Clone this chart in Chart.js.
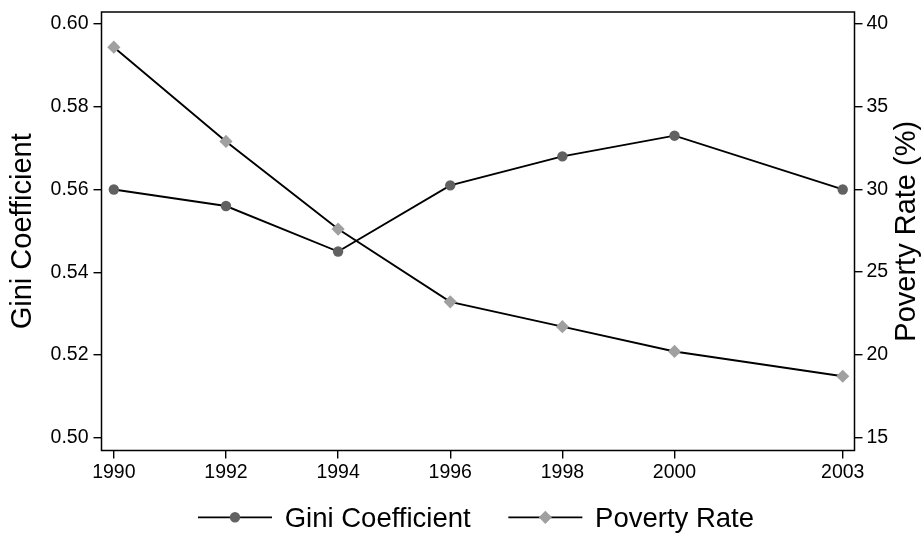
<!DOCTYPE html>
<html><head><meta charset="utf-8">
<script src="https://cdn.jsdelivr.net/npm/chart.js@4"></script>
<style>html,body{margin:0;padding:0;background:#fff}canvas{display:block}</style>
</head><body>
<canvas id="c" width="923" height="534"></canvas>
<script>
const years = [1990, 1992, 1994, 1996, 1998, 2000, 2003];
const gini = [0.560, 0.556, 0.545, 0.561, 0.568, 0.573, 0.560];
const poverty = [38.6, 32.9, 27.6, 23.2, 21.7, 20.2, 18.7];
const giniTicks = [0.50, 0.52, 0.54, 0.56, 0.58, 0.60];
const povertyTicks = [15, 20, 25, 30, 35, 40];
const yearTicks = [1990, 1992, 1994, 1996, 1998, 2000, 2003];
const giniLabel = 'Gini Coefficient';
const povertyLabel = 'Poverty Rate';
const leftTitle = 'Gini Coefficient';
const rightTitle = 'Poverty Rate (%)';

const FONT = "'Liberation Sans', Arial, Helvetica, sans-serif";
const TICK_FONT = {family: FONT, size: 19.5};

const giniColor = '#616161';
const povColor = '#a0a0a0';

const boxPlugin = {
  id: 'extras',
  afterDraw(chart) {
    const ctx = chart.ctx, a = chart.chartArea;
    ctx.save();
    ctx.strokeStyle = '#000';
    ctx.lineWidth = 1.5;
    ctx.strokeRect(a.left, a.top, a.right - a.left, a.bottom - a.top);
    // right axis title (reads bottom to top)
    ctx.fillStyle = '#000';
    ctx.font = '29px ' + FONT;
    ctx.translate(907, (a.top + a.bottom) / 2);
    ctx.rotate(-Math.PI / 2);
    ctx.textAlign = 'center';
    ctx.textBaseline = 'middle';
    ctx.fillText(rightTitle, 0, 0);
    ctx.restore();

    // legend
    ctx.save();
    ctx.font = '27.5px ' + FONT;
    const lineLen = 74, gapText = 12.7, gapItems = 37.7;
    const ds = chart.data.datasets;
    const w0 = ctx.measureText(ds[0].label).width;
    const w1 = ctx.measureText(ds[1].label).width;
    const total = lineLen + gapText + w0 + gapItems + lineLen + gapText + w1;
    let x = (a.left + a.right) / 2 - total / 2 - 2;
    const y = 517.3;
    const items = [[ds[0], w0], [ds[1], w1]];
    items.forEach(([d, w]) => {
      ctx.strokeStyle = '#000';
      ctx.lineWidth = 1.8;
      ctx.beginPath(); ctx.moveTo(x, y); ctx.lineTo(x + lineLen, y); ctx.stroke();
      ctx.fillStyle = d.pointBackgroundColor;
      ctx.beginPath();
      const cx = x + lineLen / 2;
      if (d.pointStyle === 'rectRot') {
        const r = d.pointRadius;
        ctx.moveTo(cx, y - r); ctx.lineTo(cx + r, y); ctx.lineTo(cx, y + r); ctx.lineTo(cx - r, y); ctx.closePath();
      } else {
        ctx.arc(cx, y, d.pointRadius, 0, Math.PI * 2);
      }
      ctx.fill();
      ctx.fillStyle = '#000';
      ctx.textAlign = 'left';
      ctx.textBaseline = 'alphabetic';
      ctx.fillText(d.label, x + lineLen + gapText, 527.3);
      x += lineLen + gapText + w + gapItems;
    });
    ctx.restore();
  }
};

const tickGrid = {drawOnChartArea: false, drawTicks: true, tickLength: 8, color: '#000', lineWidth: 1.4};
const noPad = s => { s.paddingTop = 0; s.paddingBottom = 0; s.paddingLeft = 0; s.paddingRight = 0; };

new Chart(document.getElementById('c'), {
  type: 'line',
  data: {
    datasets: [
      {
        label: giniLabel,
        data: years.map((yr, i) => ({x: yr, y: gini[i]})),
        yAxisID: 'y',
        borderColor: '#000',
        borderWidth: 1.9,
        pointStyle: 'circle',
        pointRadius: 5.2,
        pointBackgroundColor: giniColor,
        pointBorderColor: giniColor,
        pointBorderWidth: 0,
        tension: 0,
        fill: false
      },
      {
        label: povertyLabel,
        data: years.map((yr, i) => ({x: yr, y: poverty[i]})),
        yAxisID: 'y1',
        borderColor: '#000',
        borderWidth: 1.9,
        pointStyle: 'rectRot',
        pointRadius: 6.6,
        pointBackgroundColor: povColor,
        pointBorderColor: povColor,
        pointBorderWidth: 0,
        tension: 0,
        fill: false
      }
    ]
  },
  options: {
    responsive: false,
    animation: false,
    events: [],
    layout: {padding: {top: 12, left: 0, right: 0, bottom: 0}},
    plugins: {legend: {display: false}, tooltip: {enabled: false}, title: {display: false}},
    scales: {
      x: {
        type: 'linear',
        position: 'bottom',
        min: 1989.78,
        max: 2003.21,
        afterBuildTicks: s => { s.ticks = yearTicks.map(v => ({value: v})); },
        afterFit: s => { s.height = 83.5; noPad(s); },
        grid: tickGrid,
        border: {display: false},
        ticks: {font: TICK_FONT, color: '#000', padding: 2, maxRotation: 0, autoSkip: false, callback: v => String(v)}
      },
      y: {
        type: 'linear',
        position: 'left',
        min: 0.4969,
        max: 0.6029,
        afterBuildTicks: s => { s.ticks = giniTicks.map(v => ({value: v})); },
        afterFit: s => { s.width = 101.5; noPad(s); },
        grid: tickGrid,
        border: {display: false},
        ticks: {font: TICK_FONT, color: '#000', padding: 5, autoSkip: false, callback: v => Number(v).toFixed(2)},
        title: {display: true, text: leftTitle, color: '#000', font: {family: FONT, size: 29}, padding: {top: 5.6, bottom: 0}}
      },
      y1: {
        type: 'linear',
        position: 'right',
        min: 14.21,
        max: 40.73,
        afterBuildTicks: s => { s.ticks = povertyTicks.map(v => ({value: v})); },
        afterFit: s => { s.width = 68.5; noPad(s); },
        grid: tickGrid,
        border: {display: false},
        ticks: {font: TICK_FONT, color: '#000', padding: 4, autoSkip: false, callback: v => String(v)}
      }
    }
  },
  plugins: [boxPlugin]
});
</script>
</body></html>
